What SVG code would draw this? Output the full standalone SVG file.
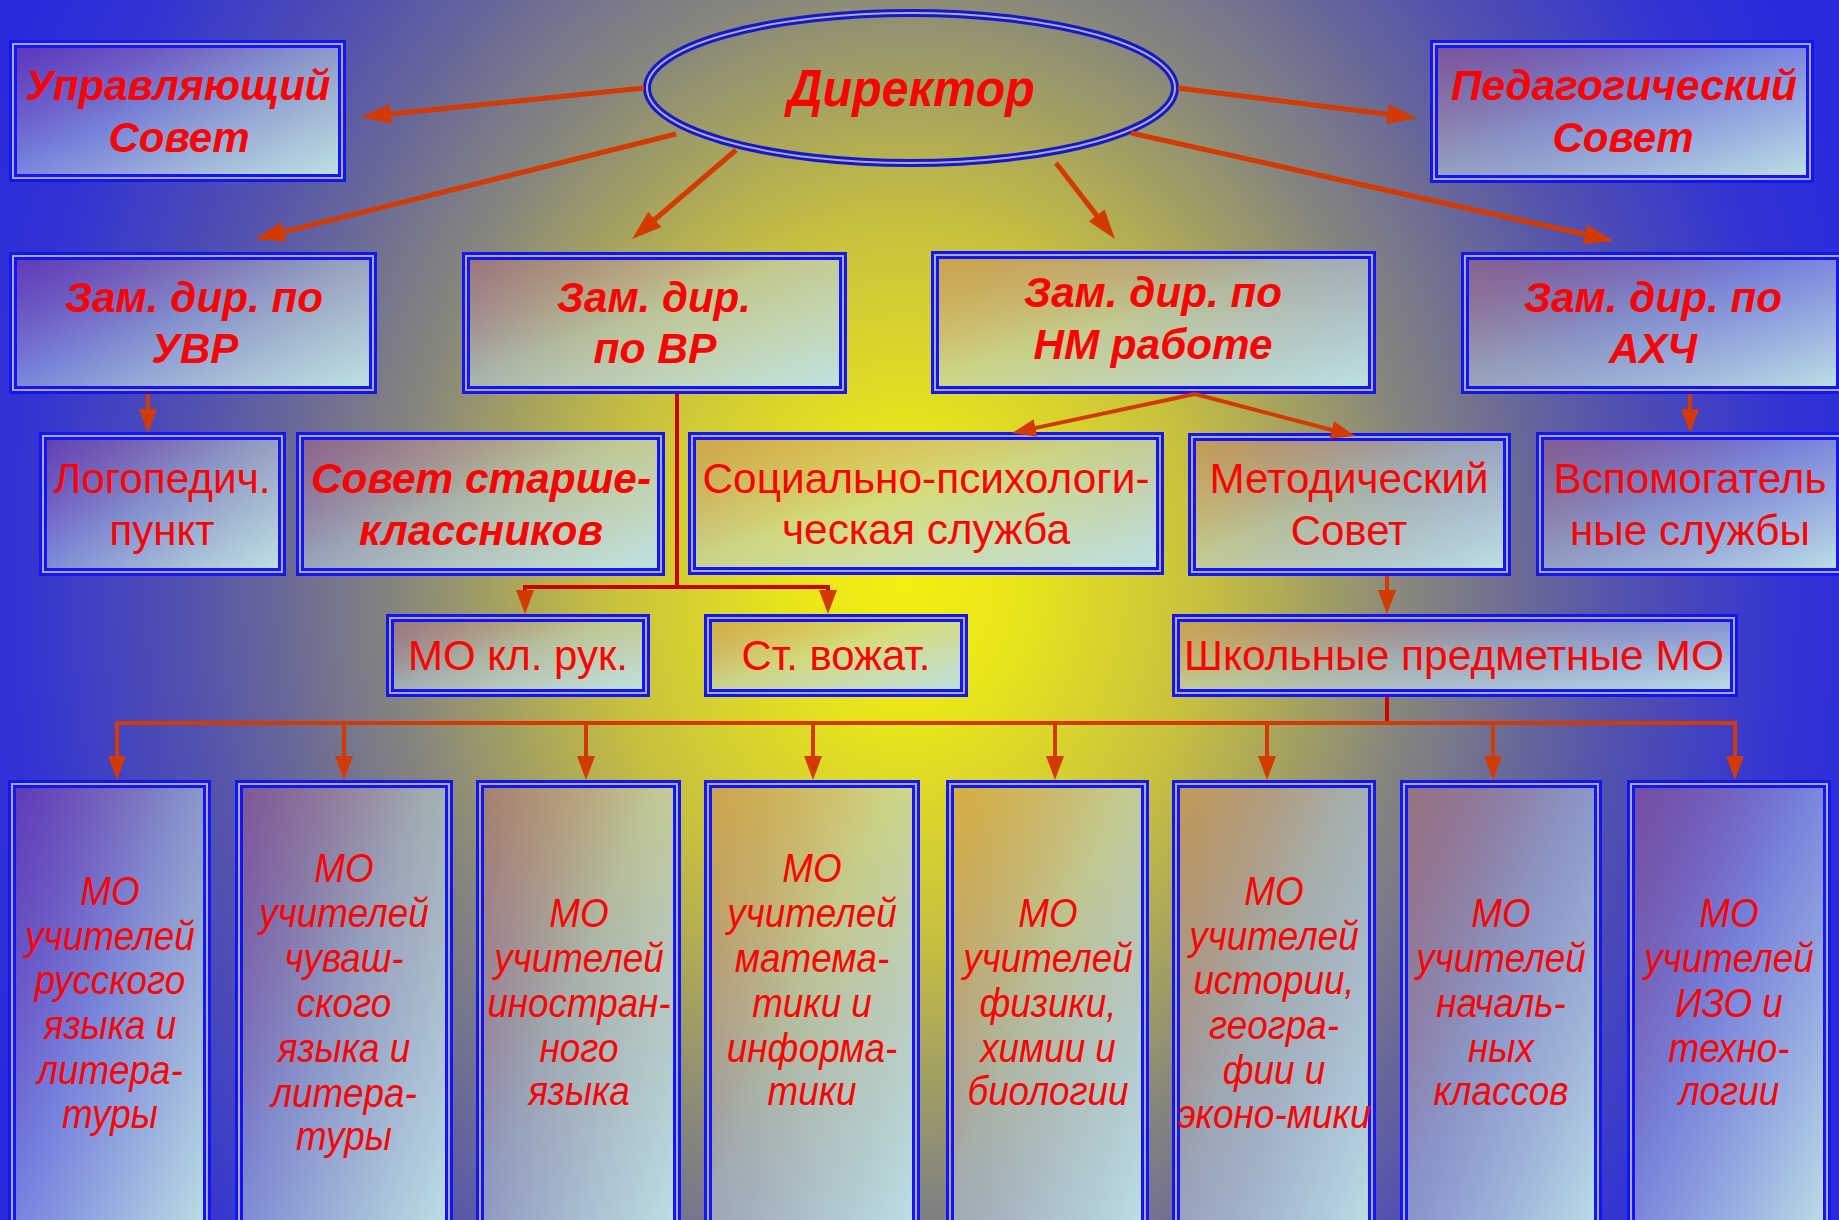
<svg xmlns="http://www.w3.org/2000/svg" width="1839" height="1220" viewBox="0 0 1839 1220">
<defs>
<radialGradient id="bg" gradientUnits="userSpaceOnUse" cx="905" cy="580" r="1000" gradientTransform="translate(905 580) scale(1 1.2) translate(-905 -580)">
<stop offset="0" stop-color="#f4f010"/>
<stop offset="0.12" stop-color="#e8e41c"/>
<stop offset="0.3" stop-color="#c6c040"/>
<stop offset="0.5" stop-color="#88877c"/>
<stop offset="0.7" stop-color="#5656aa"/>
<stop offset="0.88" stop-color="#3434d2"/>
<stop offset="1" stop-color="#2a2ade"/>
</radialGradient>
<linearGradient id="bf" x1="0" y1="0" x2="1" y2="1">
<stop offset="0" stop-color="#c85078" stop-opacity="0.3"/>
<stop offset="0.45" stop-color="#bcd0e0" stop-opacity="0.5"/>
<stop offset="1" stop-color="#bee2e6" stop-opacity="1"/>
</linearGradient>
<marker id="ab" markerUnits="userSpaceOnUse" markerWidth="30" markerHeight="20" refX="20" refY="10" orient="auto">
<path d="M0,0 L30,10 L0,20 z" fill="#d23a00"/>
</marker>
<marker id="as" markerUnits="userSpaceOnUse" markerWidth="24" markerHeight="18" refX="14" refY="9" orient="auto">
<path d="M0,0 L24,9 L0,18 z" fill="#d23a00"/>
</marker>
</defs>
<style>
.o{fill:url(#bf);stroke:#1414f8;stroke-width:8}
.i{fill:none;stroke:#a8a8c4;stroke-width:2}
.oe{fill:none;stroke:#1818c8;stroke-width:8}
.t{font-family:"Liberation Sans",Arial,sans-serif;fill:#ff0000;text-anchor:middle}
.bi{font-weight:bold;font-style:italic;font-size:42px}
.r{font-size:42px}
.it{font-style:italic;font-size:40px}
.c{fill:none;stroke:#d23a00;stroke-width:4}
.cb{fill:none;stroke:#d23a00;stroke-width:5}
.cr{fill:none;stroke:#cc0000;stroke-width:4}
</style>
<rect x="0" y="0" width="1839" height="1220" fill="url(#bg)"/>

<g id="director">
<ellipse class="oe" cx="911" cy="88" rx="264" ry="75"/>
<ellipse class="i" cx="911" cy="88" rx="264" ry="75"/>
<text class="t" x="911" y="106" font-weight="bold" font-style="italic" font-size="52" textLength="247" lengthAdjust="spacingAndGlyphs">Директор</text>
</g>

<g id="upr-sovet">
<rect class="o" x="13" y="44" width="329" height="134"/>
<rect class="i" x="13" y="44" width="329" height="134"/>
<text class="t bi" x="178" y="100" textLength="305" lengthAdjust="spacingAndGlyphs">Управляющий</text>
<text class="t bi" x="179" y="152">Совет</text>
</g>

<g id="ped-sovet">
<rect class="o" x="1434" y="44" width="376" height="135"/>
<rect class="i" x="1434" y="44" width="376" height="135"/>
<text class="t bi" x="1624" y="100" textLength="346" lengthAdjust="spacingAndGlyphs">Педагогический</text>
<text class="t bi" x="1623" y="152">Совет</text>
</g>

<g id="zam-uvr">
<rect class="o" x="13" y="256" width="360" height="134"/>
<rect class="i" x="13" y="256" width="360" height="134"/>
<text class="t bi" x="194" y="312" textLength="258" lengthAdjust="spacingAndGlyphs">Зам. дир. по</text>
<text class="t bi" x="195" y="363">УВР</text>
</g>

<g id="zam-vr">
<rect class="o" x="466" y="256" width="377" height="134"/>
<rect class="i" x="466" y="256" width="377" height="134"/>
<text class="t bi" x="654" y="312" textLength="194" lengthAdjust="spacingAndGlyphs">Зам. дир.</text>
<text class="t bi" x="655" y="363" textLength="123" lengthAdjust="spacingAndGlyphs">по ВР</text>
</g>

<g id="zam-nm">
<rect class="o" x="935" y="255" width="437" height="135"/>
<rect class="i" x="935" y="255" width="437" height="135"/>
<text class="t bi" x="1153" y="307" textLength="258" lengthAdjust="spacingAndGlyphs">Зам. дир. по</text>
<text class="t bi" x="1153" y="359" textLength="239" lengthAdjust="spacingAndGlyphs">НМ работе</text>
</g>

<g id="zam-ahch">
<rect class="o" x="1465" y="256" width="375" height="134"/>
<rect class="i" x="1465" y="256" width="375" height="134"/>
<text class="t bi" x="1653" y="312" textLength="258" lengthAdjust="spacingAndGlyphs">Зам. дир. по</text>
<text class="t bi" x="1653" y="363">АХЧ</text>
</g>

<g id="logoped">
<rect class="o" x="43" y="436" width="239" height="136"/>
<rect class="i" x="43" y="436" width="239" height="136"/>
<text class="t r" x="162" y="493" textLength="217" lengthAdjust="spacingAndGlyphs">Логопедич.</text>
<text class="t r" x="162" y="545">пункт</text>
</g>

<g id="sovet-st">
<rect class="o" x="300" y="436" width="361" height="136"/>
<rect class="i" x="300" y="436" width="361" height="136"/>
<text class="t bi" x="481" y="493" textLength="340" lengthAdjust="spacingAndGlyphs">Совет старше-</text>
<text class="t bi" x="481" y="545" textLength="244" lengthAdjust="spacingAndGlyphs">классников</text>
</g>

<g id="soc-psy">
<rect class="o" x="692" y="436" width="468" height="135"/>
<rect class="i" x="692" y="436" width="468" height="135"/>
<text class="t r" x="926" y="493" textLength="447" lengthAdjust="spacingAndGlyphs">Социально-психологи-</text>
<text class="t r" x="926" y="544" textLength="288" lengthAdjust="spacingAndGlyphs">ческая служба</text>
</g>

<g id="metod">
<rect class="o" x="1192" y="437" width="315" height="135"/>
<rect class="i" x="1192" y="437" width="315" height="135"/>
<text class="t r" x="1349" y="493" textLength="279" lengthAdjust="spacingAndGlyphs">Методический</text>
<text class="t r" x="1349" y="545">Совет</text>
</g>

<g id="vspom">
<rect class="o" x="1540" y="436" width="300" height="136"/>
<rect class="i" x="1540" y="436" width="300" height="136"/>
<text class="t r" x="1690" y="493" textLength="273" lengthAdjust="spacingAndGlyphs">Вспомогатель</text>
<text class="t r" x="1690" y="545" textLength="240" lengthAdjust="spacingAndGlyphs">ные службы</text>
</g>

<g id="mo-kl">
<rect class="o" x="390" y="618" width="256" height="75"/>
<rect class="i" x="390" y="618" width="256" height="75"/>
<text class="t r" x="518" y="670" textLength="220" lengthAdjust="spacingAndGlyphs">МО кл. рук.</text>
</g>

<g id="st-vozh">
<rect class="o" x="708" y="618" width="256" height="75"/>
<rect class="i" x="708" y="618" width="256" height="75"/>
<text class="t r" x="836" y="670" textLength="189" lengthAdjust="spacingAndGlyphs">Ст. вожат.</text>
</g>

<g id="shk-mo">
<rect class="o" x="1176" y="618" width="558" height="75"/>
<rect class="i" x="1176" y="618" width="558" height="75"/>
<text class="t r" x="1454" y="670" textLength="540" lengthAdjust="spacingAndGlyphs">Школьные предметные МО</text>
</g>

<g id="mo-rus">
<rect class="o" x="12" y="784" width="195" height="460"/>
<rect class="i" x="12" y="784" width="195" height="460"/>
<text class="t it" transform="matrix(0.92 0 0 1 8.8 0)"><tspan x="110" y="905">МО</tspan><tspan x="110" y="950">учителей</tspan><tspan x="110" y="994">русского</tspan><tspan x="110" y="1039">языка и</tspan><tspan x="110" y="1084">литера-</tspan><tspan x="110" y="1128">туры</tspan></text>
</g>

<g id="mo-chuv">
<rect class="o" x="239" y="784" width="210" height="460"/>
<rect class="i" x="239" y="784" width="210" height="460"/>
<text class="t it" transform="matrix(0.92 0 0 1 27.52 0)"><tspan x="344" y="882">МО</tspan><tspan x="344" y="927">учителей</tspan><tspan x="344" y="972">чуваш-</tspan><tspan x="344" y="1017">ского</tspan><tspan x="344" y="1062">языка и</tspan><tspan x="344" y="1107">литера-</tspan><tspan x="344" y="1150">туры</tspan></text>
</g>

<g id="mo-inostr">
<rect class="o" x="480" y="784" width="197" height="460"/>
<rect class="i" x="480" y="784" width="197" height="460"/>
<text class="t it" transform="matrix(0.92 0 0 1 46.32 0)"><tspan x="579" y="927">МО</tspan><tspan x="579" y="972">учителей</tspan><tspan x="579" y="1017">иностран-</tspan><tspan x="579" y="1062">ного</tspan><tspan x="579" y="1105">языка</tspan></text>
</g>

<g id="mo-mat">
<rect class="o" x="708" y="784" width="208" height="460"/>
<rect class="i" x="708" y="784" width="208" height="460"/>
<text class="t it" transform="matrix(0.92 0 0 1 64.96 0)"><tspan x="812" y="882">МО</tspan><tspan x="812" y="927">учителей</tspan><tspan x="812" y="972">матема-</tspan><tspan x="812" y="1017">тики и</tspan><tspan x="812" y="1062">информа-</tspan><tspan x="812" y="1105">тики</tspan></text>
</g>

<g id="mo-fiz">
<rect class="o" x="950" y="784" width="195" height="460"/>
<rect class="i" x="950" y="784" width="195" height="460"/>
<text class="t it" transform="matrix(0.92 0 0 1 83.84 0)"><tspan x="1048" y="927">МО</tspan><tspan x="1048" y="972">учителей</tspan><tspan x="1048" y="1017">физики,</tspan><tspan x="1048" y="1062">химии и</tspan><tspan x="1048" y="1105">биологии</tspan></text>
</g>

<g id="mo-ist">
<rect class="o" x="1176" y="784" width="196" height="460"/>
<rect class="i" x="1176" y="784" width="196" height="460"/>
<text class="t it" transform="matrix(0.92 0 0 1 101.92 0)"><tspan x="1274" y="905">МО</tspan><tspan x="1274" y="950">учителей</tspan><tspan x="1274" y="994">истории,</tspan><tspan x="1274" y="1039">геогра-</tspan><tspan x="1274" y="1084">фии и</tspan><tspan x="1274" y="1128" textLength="210" lengthAdjust="spacingAndGlyphs">эконо-мики</tspan></text>
</g>

<g id="mo-nach">
<rect class="o" x="1404" y="784" width="194" height="460"/>
<rect class="i" x="1404" y="784" width="194" height="460"/>
<text class="t it" transform="matrix(0.92 0 0 1 120.08 0)"><tspan x="1501" y="927">МО</tspan><tspan x="1501" y="972">учителей</tspan><tspan x="1501" y="1017">началь-</tspan><tspan x="1501" y="1062">ных</tspan><tspan x="1501" y="1105">классов</tspan></text>
</g>

<g id="mo-izo">
<rect class="o" x="1631" y="784" width="196" height="460"/>
<rect class="i" x="1631" y="784" width="196" height="460"/>
<text class="t it" transform="matrix(0.92 0 0 1 138.32 0)"><tspan x="1729" y="927">МО</tspan><tspan x="1729" y="972">учителей</tspan><tspan x="1729" y="1017">ИЗО и</tspan><tspan x="1729" y="1062">техно-</tspan><tspan x="1729" y="1105">логии</tspan></text>
</g>

<g id="connectors">
<line class="cb" x1="644" y1="88" x2="371" y2="116" marker-end="url(#ab)"/>
<line class="cb" x1="676" y1="134" x2="264.7" y2="236.6" marker-end="url(#ab)"/>
<line class="cb" x1="736" y1="150" x2="639.6" y2="232.5" marker-end="url(#ab)"/>
<line class="cb" x1="1178" y1="88" x2="1407.1" y2="116.7" marker-end="url(#ab)"/>
<line class="cb" x1="1131" y1="133" x2="1604.2" y2="238.8" marker-end="url(#ab)"/>
<line class="cb" x1="1056" y1="163" x2="1108.9" y2="231.1" marker-end="url(#ab)"/>
<line class="c" x1="148" y1="394" x2="148" y2="423" marker-end="url(#as)"/>
<line class="c" x1="1195" y1="394" x2="1021.8" y2="430.9" marker-end="url(#as)"/>
<line class="c" x1="1195" y1="394" x2="1345.3" y2="433.5" marker-end="url(#as)"/>
<line class="c" x1="1690" y1="394" x2="1690" y2="423" marker-end="url(#as)"/>
<polyline class="cr" points="677,394 677,587"/>
<polyline class="cr" points="525,604 525,587 828,587 828,604"/>
<line class="c" x1="525" y1="590" x2="525" y2="604" marker-end="url(#as)"/>
<line class="c" x1="828" y1="590" x2="828" y2="604" marker-end="url(#as)"/>
<line class="c" x1="1387" y1="576" x2="1387" y2="604" marker-end="url(#as)"/>
<line class="cr" x1="1387" y1="697" x2="1387" y2="723"/>
<polyline class="c" points="117,770 117,723 1735,723 1735,770"/>
<line class="c" x1="117" y1="723" x2="117" y2="770" marker-end="url(#as)"/>
<line class="c" x1="344" y1="723" x2="344" y2="770" marker-end="url(#as)"/>
<line class="c" x1="586" y1="723" x2="586" y2="770" marker-end="url(#as)"/>
<line class="c" x1="813" y1="723" x2="813" y2="770" marker-end="url(#as)"/>
<line class="c" x1="1055" y1="723" x2="1055" y2="770" marker-end="url(#as)"/>
<line class="c" x1="1267" y1="723" x2="1267" y2="770" marker-end="url(#as)"/>
<line class="c" x1="1493" y1="723" x2="1493" y2="770" marker-end="url(#as)"/>
<line class="c" x1="1735" y1="723" x2="1735" y2="770" marker-end="url(#as)"/>
</g>
</svg>
